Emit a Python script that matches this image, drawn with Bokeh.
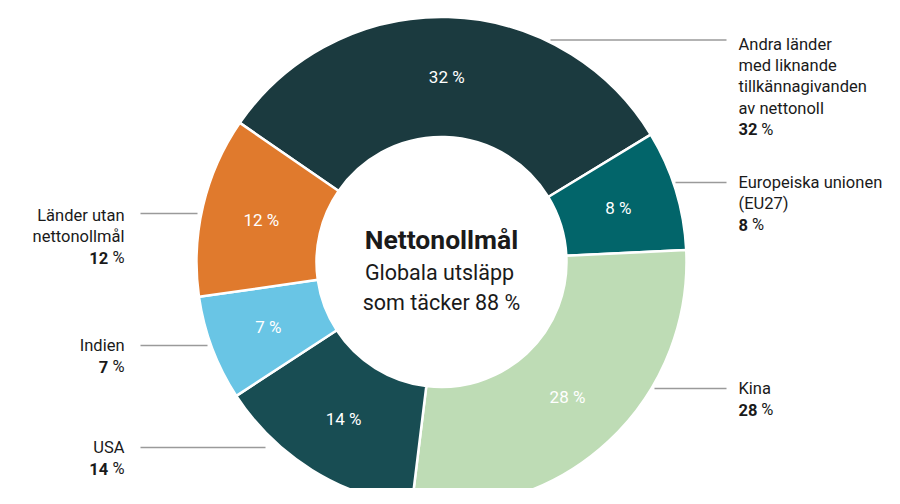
import math
from bokeh.plotting import figure
from bokeh.models import Range1d, ColumnDataSource
from bokeh.core.properties import value
from bokeh.embed import file_html
from bokeh.resources import INLINE

# ---------------- data ----------------
categories = ["Andra länder med liknande tillkännagivanden av nettonoll",
              "Europeiska unionen (EU27)", "Kina", "USA", "Indien",
              "Länder utan nettonollmål"]
label_lines = [["Andra länder", "med liknande", "tillkännagivanden", "av nettonoll"],
               ["Europeiska unionen", "(EU27)"],
               ["Kina"],
               ["USA"],
               ["Indien"],
               ["Länder utan", "nettonollmål"]]
shares = [32, 8, 28, 14, 7, 12]
colors = ["#1b3a3f", "#02656a", "#bedcb5", "#184d53", "#69c5e5", "#e07a2d"]
title_text = "Nettonollmål"
subtitle_lines = ["Globala utsläpp", "som täcker 88 %"]

# ---------------- layout (picture px) ----------------
W, H = 884, 488
def Y(sy):
    return H - sy

FONT = "Roboto"
FS = 16.5
CX, CY = 441, Y(261.5)
R_OUT, R_IN = 245, 125
START_DEG = 145.4

# label anchor: (side, x, first-row y, leader line x0, x1, leader y)
label_layout = [
    ("right", 738, 44, 550, 726, 39.5),
    ("right", 738, 182, 675, 726, 182),
    ("right", 738, 388, 654, 726, 388),
    ("left", 124, 447, 140, 265, 447),
    ("left", 124, 345, 140, 207, 345),
    ("left", 124, 215, 140, 197, 213),
]
ROW = 21.2

p = figure(width=W, height=H, output_backend="svg", toolbar_location=None,
           x_range=Range1d(0, W), y_range=Range1d(0, H),
           min_border=0, outline_line_color=None)
p.axis.visible = False
p.grid.visible = False
p.background_fill_color = "white"
p.border_fill_color = "white"

total = sum(shares)
cum = 0.0
his, los, mids = [], [], []
for v in shares:
    hi = START_DEG - cum * 360.0 / total
    lo = hi - v * 360.0 / total
    his.append(math.radians(hi))
    los.append(math.radians(lo))
    mids.append((hi + lo) / 2)
    cum += v

src = ColumnDataSource(dict(x=[CX] * len(shares), y=[CY] * len(shares),
                            start=los, end=his, color=colors))
p.annular_wedge(x="x", y="y", inner_radius=R_IN, outer_radius=R_OUT,
                start_angle="start", end_angle="end",
                direction="anticlock", fill_color="color",
                line_color="white", line_width=2.5, source=src)

# inside percentage labels
R_MID = (R_IN + R_OUT) / 2
px = [CX + R_MID * math.cos(math.radians(m)) for m in mids]
py = [CY + R_MID * math.sin(math.radians(m)) for m in mids]
p.text(x=px, y=py, text=[f"{v} %" for v in shares], text_color="white",
       text_font=value(FONT), text_font_size="17px",
       text_align="center", text_baseline="middle")

# center text
p.text(x=[CX], y=[Y(239)], text=[title_text], text_color="#1a1a1a",
       text_font=value(FONT), text_font_style="bold", text_font_size="26.5px",
       text_align="center", text_baseline="middle")
p.text(x=[CX - 2, CX], y=[Y(272), Y(302)], text=subtitle_lines, text_color="#1a1a1a",
       text_font=value(FONT), text_font_size="21.5px",
       text_align="center", text_baseline="middle")

# outer labels with leader lines
for lines, v, (side, tx, ty, lx0, lx1, ly) in zip(label_lines, shares, label_layout):
    p.line([lx0, lx1], [Y(ly), Y(ly)], line_color="#9a9a9a", line_width=1.5)
    align = "left" if side == "right" else "right"
    ys = [Y(ty + i * ROW) for i in range(len(lines))]
    p.text(x=[tx] * len(lines), y=ys, text=lines, text_color="#1a1a1a",
           text_font=value(FONT), text_font_size=f"{FS}px",
           text_align=align, text_baseline="middle")
    py_pct = Y(ty + len(lines) * ROW)
    num = str(v)
    if side == "right":
        p.text(x=[tx], y=[py_pct], text=[num], text_color="#1a1a1a",
               text_font=value(FONT), text_font_style="bold", text_font_size=f"{FS}px",
               text_align="left", text_baseline="middle")
        p.text(x=[tx + 0.562 * FS * len(num) + 0.25 * FS], y=[py_pct], text=["%"],
               text_color="#1a1a1a", text_font=value(FONT), text_font_size=f"{FS}px",
               text_align="left", text_baseline="middle")
    else:
        p.text(x=[tx], y=[py_pct], text=["%"], text_color="#1a1a1a",
               text_font=value(FONT), text_font_size=f"{FS}px",
               text_align="right", text_baseline="middle")
        p.text(x=[tx - 0.733 * FS - 0.25 * FS], y=[py_pct], text=[num], text_color="#1a1a1a",
               text_font=value(FONT), text_font_style="bold", text_font_size=f"{FS}px",
               text_align="right", text_baseline="middle")

open("out.html", "w").write(file_html(p, INLINE))
